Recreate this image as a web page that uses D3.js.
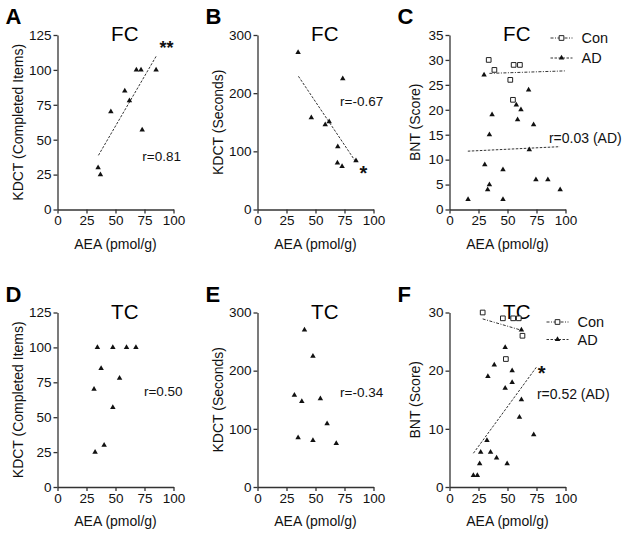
<!DOCTYPE html>
<html><head><meta charset="utf-8">
<script src="https://cdn.jsdelivr.net/npm/d3@7"></script>
<style>body{margin:0;background:#fff;} svg{display:block;font-family:"Liberation Sans",Arial,sans-serif;}</style>
</head><body>
<svg id="c" width="624" height="548"></svg>
<script>
// ---- data ----
const xTicks = [0, 25, 50, 75, 100];
const itemsTicks = [0, 25, 50, 75, 100, 125];
const secTicks = [0, 100, 200, 300];
const bntFCTicks = [0, 5, 10, 15, 20, 25, 30, 35];
const bntTCTicks = [0, 10, 20, 30];

// A: FC KDCT completed items
const aX = [35, 37, 46, 58, 62, 68, 72, 73, 85];
const aY = [30, 25, 70, 85, 78, 100, 100, 57, 100];
const aFit = [[35.3, 38.8], [85, 109.7]];
// B: FC KDCT seconds
const bX = [35, 46.4, 58.4, 61.8, 69.2, 68.9, 72.9, 73.5, 84.9];
const bY = [270, 158, 146, 151, 108, 80, 74, 225, 84];
const bFit = [[35.3, 229], [84.9, 81.4]];
// C: FC BNT
const cConX = [33.8, 38.7, 55.3, 60.7, 52.4, 54.7];
const cConY = [30, 28, 29, 29, 26, 22];
const cAdX = [29.8, 36.7, 34.4, 30.4, 34.4, 32.9, 16, 46.1, 46.1, 57.6, 61.6, 58.7, 68.2, 72.5, 68.8, 74.5, 84.8, 95.4];
const cAdY = [27, 19, 15, 9, 5, 4, 2, 8, 2, 21, 20, 18, 24, 17, 12, 6, 6, 4];
const cConFit = [[34.4, 27.3], [99.4, 27.8]];
const cAdFit = [[15.8, 11.7], [95.1, 12.6]];
// D: TC KDCT completed items
const dX = [34.4, 47.7, 59.5, 67.6, 37.6, 31.5, 53.5, 47.7, 40.2, 32.4];
const dY = [100, 100, 100, 100, 85, 70, 78, 57, 30, 25];
// E: TC KDCT seconds
const eX = [40.5, 47.8, 31.8, 38.2, 54.2, 60, 35, 47.8, 67.9];
const eY = [270, 225, 158, 147, 152, 109, 85, 80, 75];
// F: TC BNT
const fConX = [28.6, 46, 54.9, 59.7, 62.9, 48.6];
const fConY = [30, 29, 29, 29, 26, 22];
const fAdX = [20.6, 24, 26, 26.9, 35.4, 32.3, 40.6, 49.7, 33.1, 38.6, 48, 48, 54, 54, 62, 60.3, 72.6, 62];
const fAdY = [2, 2, 4, 6, 6, 8, 5, 4, 19, 21, 24, 17, 20, 18, 15, 12, 9, 27];
const fConFit = [[28.6, 28.9], [62.9, 26.9]];
const fAdFit = [[20.6, 5.8], [74.9, 20.6]];

const panelLetters = ["A", "B", "C", "D", "E", "F"];
const regions = ["FC", "FC", "FC", "TC", "TC", "TC"];
const yTitles = ["KDCT (Completed Items)", "KDCT (Seconds)", "BNT (Score)", "KDCT (Completed Items)", "KDCT (Seconds)", "BNT (Score)"];
const xTitle = "AEA (pmol/g)";
const legendNames = ["Con", "AD"];

// ---- drawing ----
const svg = d3.select("#c");
const W = 116, H = 174.5;
const lefts = [57.5, 257.5, 449.5];
const tops = [35, 312.5];
const ink = "#111";

function panel(i, cfg) {
  const col = i % 3, row = Math.floor(i / 3);
  const x0 = lefts[col], y0 = tops[row];
  const g = svg.append("g").attr("transform", `translate(${x0},${y0})`);
  const x = d3.scaleLinear().domain([0, 100]).range([0, W]);
  const y = d3.scaleLinear().domain([0, cfg.yMax]).range([H, 0]);

  const xa = g.append("g").attr("transform", `translate(0,${H})`)
    .call(d3.axisBottom(x).tickValues(xTicks).tickSize(4).tickPadding(2).tickSizeOuter(0));
  const ya = g.append("g")
    .call(d3.axisLeft(y).tickValues(cfg.yTicks).tickSize(4).tickPadding(2).tickSizeOuter(0));
  [xa, ya].forEach(a => {
    a.select(".domain").attr("stroke", "#333").attr("stroke-width", 1.3);
    a.selectAll(".tick line").attr("stroke", "#333").attr("stroke-width", 1.3);
    a.selectAll(".tick text").attr("fill", ink).style("font-size", "13.5px")
      .style("font-family", '"Liberation Sans",Arial,sans-serif');
  });

  // letter
  svg.append("text").attr("x", x0 - 52).attr("y", y0 - 11).text(panelLetters[i])
    .attr("font-size", 22).attr("font-weight", "bold").attr("fill", "#000");
  // title
  g.append("text").attr("x", x(58)).attr("y", 6).attr("text-anchor", "middle")
    .attr("font-size", 20.5).attr("fill", "#000").text(regions[i]);
  // axis titles
  g.append("text").attr("x", W / 2).attr("y", H + 39).attr("text-anchor", "middle")
    .attr("font-size", 14).attr("fill", ink).text(xTitle);
  g.append("text").attr("transform", `translate(${cfg.ytx},${H / 2}) rotate(-90)`)
    .attr("text-anchor", "middle").attr("dominant-baseline", "central")
    .attr("font-size", 14).attr("fill", ink).text(yTitles[i]);

  const line = d3.line().x(d => x(d[0])).y(d => y(d[1]));
  (cfg.fits || []).forEach(f => {
    g.append("path").attr("d", line(f.pts)).attr("fill", "none")
      .attr("stroke", "#333").attr("stroke-width", 1).attr("stroke-dasharray", f.dash);
  });

  const tri = d3.symbol().type(d3.symbolTriangle).size(13);
  const sq = d3.symbol().type(d3.symbolSquare).size(22);
  if (cfg.con) {
    g.selectAll(".con").data(d3.zip(cfg.con[0], cfg.con[1])).join("path")
      .attr("d", sq).attr("transform", d => `translate(${x(d[0])},${y(d[1])})`)
      .attr("fill", "#fff").attr("stroke", "#222").attr("stroke-width", 1);
  }
  g.selectAll(".ad").data(d3.zip(cfg.ad[0], cfg.ad[1])).join("path")
    .attr("d", tri).attr("transform", d => `translate(${x(d[0])},${y(d[1])})`)
    .attr("fill", "#111");

  (cfg.notes || []).forEach(n => {
    g.append("text").attr("x", x(n.x)).attr("y", y(n.y)).attr("text-anchor", n.anchor || "middle")
      .attr("dominant-baseline", "central").attr("font-size", n.size || 13.5)
      .attr("font-weight", n.bold ? "bold" : "normal").attr("fill", ink).text(n.t);
  });

  if (cfg.legend) {
    const lg = cfg.legend;
    legendNames.forEach((name, k) => {
      const ly = lg.y + k * lg.dy;
      g.append("line").attr("x1", lg.x).attr("x2", lg.x + 22).attr("y1", ly).attr("y2", ly)
        .attr("stroke", "#333").attr("stroke-width", 1).attr("stroke-dasharray", k === 0 ? "3,1.5,1,1.5" : "2.5,1.5");
      g.append("path").attr("d", k === 0 ? sq() : tri())
        .attr("transform", `translate(${lg.x + 11},${ly})`)
        .attr("fill", k === 0 ? "#fff" : "#111").attr("stroke", k === 0 ? "#222" : "none");
      g.append("text").attr("x", lg.x + 31).attr("y", ly).attr("dominant-baseline", "central")
        .attr("font-size", 14.5).attr("fill", ink).text(name);
    });
  }
}

const dashAD = "2.5,1.5", dashCon = "3,1.5,1,1.5";
panel(0, { yMax: 125, yTicks: itemsTicks, ytx: -39.5, ad: [aX, aY],
  fits: [{ pts: aFit, dash: dashAD }],
  notes: [{ t: "**", x: 94, y: 116, size: 18, bold: true }, { t: "r=0.81", x: 89.8, y: 37.8 }] });
panel(1, { yMax: 300, yTicks: secTicks, ytx: -40, ad: [bX, bY],
  fits: [{ pts: bFit, dash: dashAD }],
  notes: [{ t: "*", x: 91.2, y: 62, size: 20, bold: true }, { t: "r=-0.67", x: 89.8, y: 185 }] });
panel(2, { yMax: 35, yTicks: bntFCTicks, ytx: -35, ad: [cAdX, cAdY], con: [cConX, cConY],
  fits: [{ pts: cConFit, dash: dashCon }, { pts: cAdFit, dash: dashAD }],
  notes: [{ t: "r=0.03 (AD)", x: 85.7, y: 14.3, anchor: "start", size: 14 }],
  legend: { x: 101, y: 3, dy: 20 } });
panel(3, { yMax: 125, yTicks: itemsTicks, ytx: -40, ad: [dX, dY],
  notes: [{ t: "r=0.50", x: 91.2, y: 68.3 }] });
panel(4, { yMax: 300, yTicks: secTicks, ytx: -40, ad: [eX, eY],
  notes: [{ t: "r=-0.34", x: 89.8, y: 162 }] });
panel(5, { yMax: 30, yTicks: bntTCTicks, ytx: -35, ad: [fAdX, fAdY], con: [fConX, fConY],
  fits: [{ pts: fConFit, dash: dashCon }, { pts: fAdFit, dash: dashAD }],
  notes: [{ t: "*", x: 79.5, y: 19.6, size: 20, bold: true }, { t: "r=0.52 (AD)", x: 106.7, y: 16, size: 14 }],
  legend: { x: 97, y: 9.5, dy: 17.5 } });
</script>
</body></html>
